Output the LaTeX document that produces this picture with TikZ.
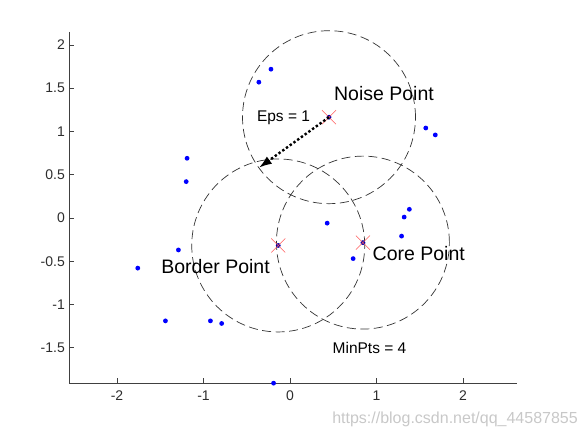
\documentclass[tikz,border=0pt]{standalone}
\usepackage{fontspec}
\setmainfont{Liberation Sans}
\usetikzlibrary{positioning, calc, arrows.meta}
\definecolor{axisGray}{RGB}{64, 64, 64}
\definecolor{dotBlue}{RGB}{0, 0, 255}
\definecolor{crossRed}{RGB}{255, 90, 90}
\definecolor{markGray}{RGB}{200, 200, 200}

\begin{document}
\begin{tikzpicture}[
    % one data unit = 86.5pt, circles have radius Eps = 1
    x=86.5pt, y=86.5pt,
    axisline/.style={draw=axisGray, line width=0.9pt},
    ticklab/.style={font=\fontsize{14}{16}\selectfont, text=axisGray!70!black, inner sep=0pt},
    epsring/.style={draw=black!80, line width=0.7pt, dash pattern=on 9pt off 4.5pt},
    bigtag/.style={font=\fontsize{19.5}{22}\selectfont, inner sep=0pt, anchor=base},
    smalltag/.style={font=\fontsize{15.5}{18}\selectfont, inner sep=0pt, anchor=base},
    cross/.style={draw=crossRed, line width=0.6pt},
    reach/.style={line width=2.4pt, dash pattern=on 2.4pt off 2.2pt,
                  -{Latex[length=13pt, width=9pt]}}
  ]
  \useasboundingbox (-3.353,-2.578) rectangle (3.434,2.520);

  % ── Axes (box off: left and bottom only) ─────────────────────────────────
  \coordinate (orig) at (-2.555, -1.908);
  \draw[axisline] (-2.555, 2.150) -- (orig) -- (2.624, -1.908);

  \foreach \x [count=\i] in {-2,-1,0,1,2} {
    \draw[axisline] (\x, -1.908) -- ++(0, 5pt);
    \node[ticklab] (xt\i) at (\x, -2.052) {\x};
  }
  \foreach \y [count=\i] in {2,1.5,1,0.5,0,-0.5,-1,-1.5} {
    \draw[axisline] (-2.555, \y) -- ++(5pt, 0);
    \node[ticklab, anchor=east] (yt\i) at (-2.601, \y) {\y};
  }

  % ── Eps neighbourhoods of the three marked points ────────────────────────
  \coordinate (noise)  at ( 0.451,  1.165);
  \coordinate (border) at (-0.136, -0.318);
  \coordinate (core)   at ( 0.843, -0.285);

  \draw[epsring] (noise)  circle (1);
  \draw[epsring] (border) circle (1);
  \draw[epsring] (core)   circle (1);

  % ── Data points ──────────────────────────────────────────────────────────
  \foreach \px/\py in {-0.36/1.57, -0.22/1.72, -1.19/0.69, -1.20/0.42,
                       -1.29/-0.37, -1.76/-0.58, -1.44/-1.19, -0.92/-1.19,
                       -0.79/-1.22, -0.19/-1.91, 0.43/-0.06, 0.73/-0.47,
                       1.29/-0.21, 1.32/0.01, 1.38/0.10, 1.57/1.04, 1.68/0.96}
    \fill[dotBlue] (\px, \py) circle (2.4pt);

  \foreach \c in {noise, border, core} {
    \fill[dotBlue!70!black] (\c) circle (2.4pt);
    \draw[cross] ($(\c)+(-7pt,-7pt)$) -- ($(\c)+(7pt,7pt)$);
    \draw[cross] ($(\c)+(-7pt,7pt)$) -- ($(\c)+(7pt,-7pt)$);
  }

  % ── Eps radius arrow ─────────────────────────────────────────────────────
  \coordinate (rim) at ($(noise)+(215.8:1)$);
  \draw[reach] (noise) -- (rim);

  % ── Labels ───────────────────────────────────────────────────────────────
  \node[bigtag]   (noiselab)  at ( 1.087,  1.353) {Noise Point};
  \node[bigtag]   (borderlab) at (-0.861, -0.640) {Border Point};
  \node[bigtag]   (corelab)   at ( 1.489, -0.494) {Core Point};
  \node[smalltag] (epslab)    at (-0.075,  1.115) {Eps = 1};
  \node[smalltag] (minptslab) at ( 0.919, -1.572) {MinPts = 4};

  \node[font=\fontsize{16}{18}\selectfont, text=markGray, inner sep=0pt,
        anchor=base] (wmark) at (1.908, -2.372) {https://blog.csdn.net/qq\_44587855};
\end{tikzpicture}
\end{document}
